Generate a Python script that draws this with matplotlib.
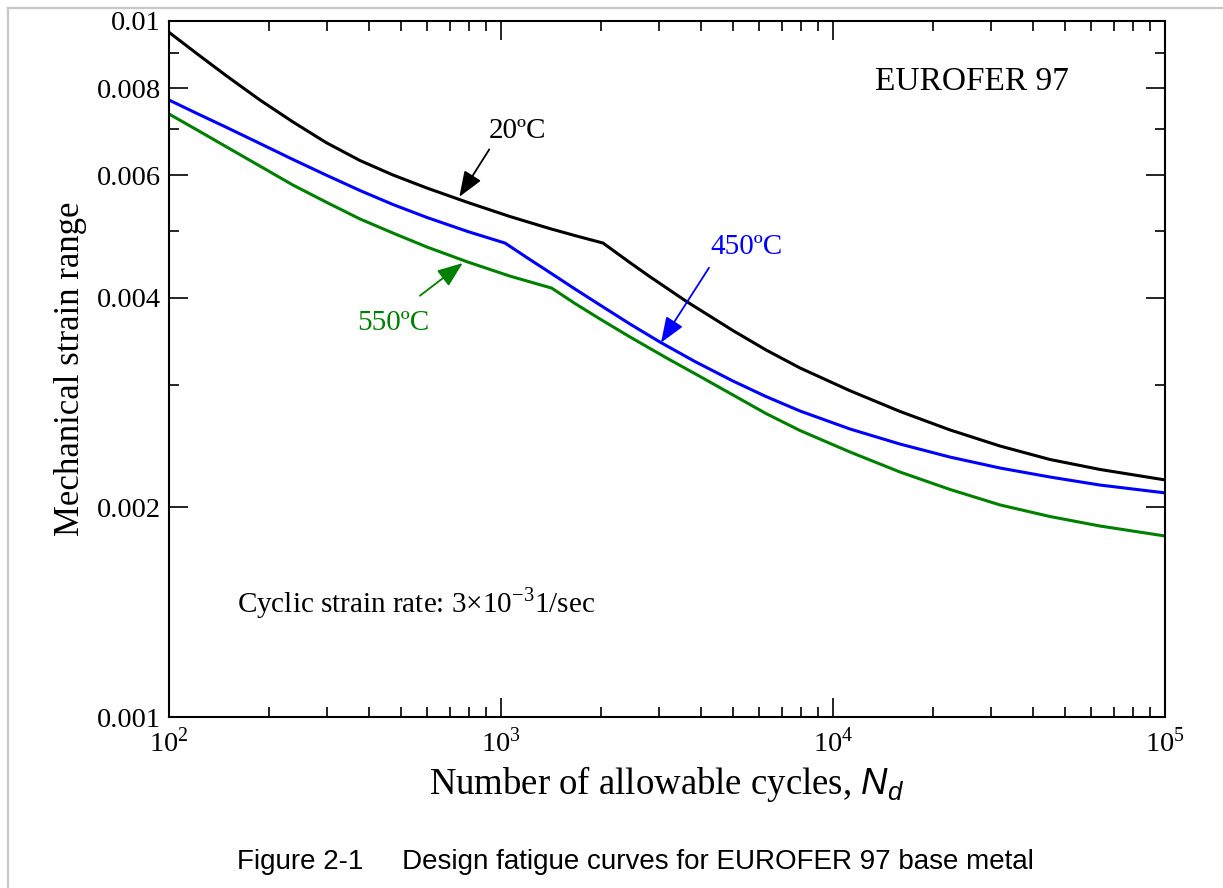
import matplotlib
matplotlib.use("Agg")
import matplotlib.pyplot as plt
from matplotlib.ticker import LogLocator, FixedLocator, NullFormatter, FixedFormatter
from matplotlib.lines import Line2D

plt.rcParams['font.family'] = ['Liberation Serif', 'DejaVu Serif']
plt.rcParams['mathtext.fontset'] = 'custom'
plt.rcParams['mathtext.rm'] = 'Liberation Serif'
plt.rcParams['mathtext.it'] = 'Liberation Sans:italic'
plt.rcParams['mathtext.sf'] = 'Liberation Sans'

# ---- data ----
cycles_20 = [100, 122.3, 149.2, 187.9, 236.3, 297.1, 376.2, 472.9, 598.6, 795.5,
             1064, 1405, 1694, 2029, 2446, 2810, 3626, 4997, 6284, 7955,
             11251, 15914, 22508, 31844, 45053, 63716, 100000]
strain_20 = [0.009633, 0.008951, 0.008336, 0.007700, 0.007160, 0.006690, 0.006302,
             0.006008, 0.005754, 0.005485, 0.005237, 0.005031, 0.004908, 0.004797,
             0.004496, 0.004291, 0.003952, 0.003591, 0.003368, 0.003173,
             0.002943, 0.002748, 0.002585, 0.002451, 0.002344, 0.002268, 0.002191]

cycles_450 = [100, 122.3, 149.2, 187.9, 236.3, 297.1, 376.2, 472.9, 598.6, 795.5,
              1028, 1223, 1405, 1671, 1987, 2446, 3012, 3840, 4997, 6284, 7955,
              11251, 15914, 22508, 31844, 45053, 63716, 100000]
strain_450 = [0.007700, 0.007352, 0.007031, 0.006668, 0.006324, 0.006008, 0.005707,
              0.005449, 0.005220, 0.004982, 0.004797, 0.004541, 0.004350, 0.004120,
              0.003908, 0.003670, 0.003457, 0.003241, 0.003039, 0.002887, 0.002752,
              0.002593, 0.002467, 0.002363, 0.002279, 0.002212, 0.002154, 0.002099]

cycles_550 = [100, 122.3, 149.2, 187.9, 236.3, 297.1, 376.2, 472.9, 598.6, 795.5,
              1064, 1421, 1671, 1987, 2446, 3156, 3976, 4997, 6284, 7955,
              11251, 15914, 22508, 31844, 45053, 63716, 100000]
strain_550 = [0.007352, 0.006961, 0.006591, 0.006188, 0.005811, 0.005494, 0.005194,
              0.004958, 0.004734, 0.004504, 0.004300, 0.004133, 0.003927, 0.003731,
              0.003516, 0.003279, 0.003085, 0.002902, 0.002729, 0.002580,
              0.002403, 0.002249, 0.002123, 0.002017, 0.001941, 0.001881, 0.001820]

y_major = [0.001, 0.002, 0.004, 0.006, 0.008, 0.01]
y_major_labels = ['0.001', '0.002', '0.004', '0.006', '0.008', '0.01']
y_minor = [0.003, 0.005, 0.007, 0.009]
x_major = [1e2, 1e3, 1e4, 1e5]
x_major_labels = [r'$10^{2}$', r'$10^{3}$', r'$10^{4}$', r'$10^{5}$']

# ---- figure ----
fig = plt.figure(figsize=(12.23, 8.88), dpi=100)
ax = fig.add_axes([169/1223, 1-717/888, (1165-169)/1223, (717-21)/888])

# outer light gray frame lines
fig.add_artist(Line2D([8/1223, 8/1223], [0, 1-8/888], color='#c8c8c8', lw=1.6,
                      transform=fig.transFigure))
fig.add_artist(Line2D([8/1223, 1], [1-8/888, 1-8/888], color='#c8c8c8', lw=1.6,
                      transform=fig.transFigure))

lw = 2.2
ax.plot(cycles_20, strain_20, color='black', lw=lw, solid_joinstyle='round')
ax.plot(cycles_450, strain_450, color='#0000ff', lw=lw, solid_joinstyle='round')
ax.plot(cycles_550, strain_550, color='#008000', lw=lw, solid_joinstyle='round')

ax.set_xscale('log')
ax.set_yscale('log')
ax.set_xlim(1e2, 1e5)
ax.set_ylim(0.001, 0.01)

ax.xaxis.set_major_locator(FixedLocator(x_major))
ax.xaxis.set_major_formatter(FixedFormatter(x_major_labels))
ax.xaxis.set_minor_locator(LogLocator(base=10, subs=range(2, 10)))
ax.xaxis.set_minor_formatter(NullFormatter())
ax.yaxis.set_major_locator(FixedLocator(y_major))
ax.yaxis.set_major_formatter(FixedFormatter(y_major_labels))
ax.yaxis.set_minor_locator(FixedLocator(y_minor))
ax.yaxis.set_minor_formatter(NullFormatter())

ax.tick_params(which='both', direction='in', top=True, right=True, width=1.2,
               labelsize=20.5, colors='black')
ax.tick_params(which='major', length=14)
ax.tick_params(axis='y', which='major', pad=6)
ax.tick_params(axis='x', which='major', pad=8)
ax.tick_params(which='minor', length=7)
for s in ax.spines.values():
    s.set_linewidth(1.5)

ax.set_ylabel('Mechanical strain range', fontsize=25, labelpad=7)
ax.set_xlabel('Number of allowable cycles, $N_d$', fontsize=26.5, labelpad=4)

# annotations
ax.text(26230, 0.00818, 'EUROFER 97', fontsize=24, ha='center', va='center')
ax.text(0.0683, 0.1638, r'Cyclic strain rate: 3$\times$10$^{-3}$1/sec',
        fontsize=21, ha='left', va='center', transform=ax.transAxes)

ax.text(1125, 0.00695, '20ºC', fontsize=21, ha='center', va='center', color='black')
ax.annotate('', xy=(749, 0.00559), xytext=(922, 0.00654),
            arrowprops=dict(arrowstyle='-|>,head_length=1.3,head_width=0.5',
                            color='black', lw=1.3, mutation_scale=12,
                            shrinkA=0, shrinkB=0))

ax.text(5470, 0.00474, '450ºC', fontsize=21, ha='center', va='center', color='#0000ff')
ax.annotate('', xy=(3033, 0.00345), xytext=(4231, 0.00442),
            arrowprops=dict(arrowstyle='-|>,head_length=1.3,head_width=0.5',
                            color='#0000ff', lw=1.3, mutation_scale=12,
                            shrinkA=0, shrinkB=0))

ax.text(473, 0.00368, '550ºC', fontsize=21, ha='center', va='center', color='#008000')
ax.annotate('', xy=(767, 0.00449), xytext=(570, 0.00403),
            arrowprops=dict(arrowstyle='-|>,head_length=1.3,head_width=0.5',
                            color='#008000', lw=1.3, mutation_scale=12,
                            shrinkA=0, shrinkB=0))

fig.text(635/1223, 1-862/888, 'Figure 2-1     Design fatigue curves for EUROFER 97 base metal',
         fontsize=20, ha='center', va='center', family=['Liberation Sans', 'DejaVu Sans'])

fig.savefig('out.png', dpi=100)
